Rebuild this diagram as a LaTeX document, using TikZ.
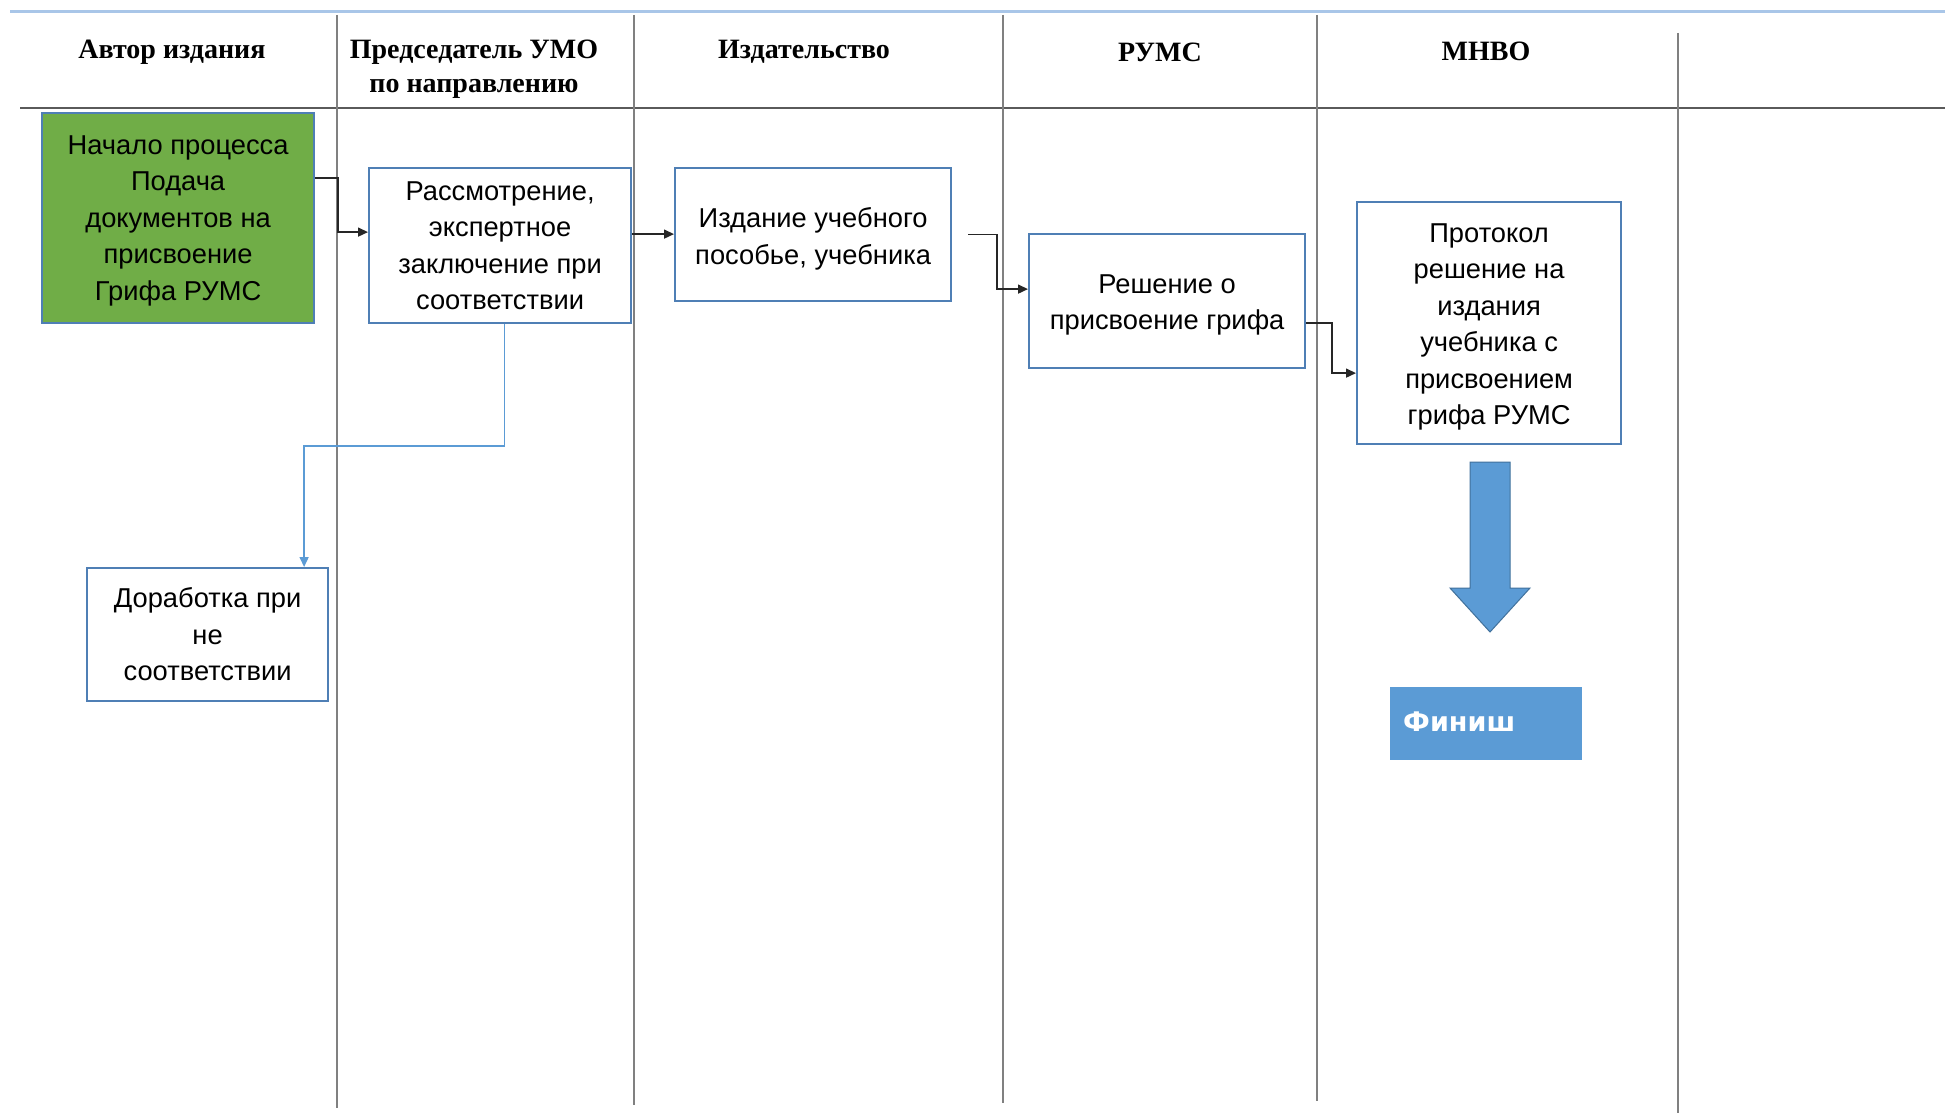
\documentclass[tikz,border=0pt]{standalone}
\usepackage{fontspec}
\setmainfont{Liberation Sans}
\newfontfamily\hdrfont{Liberation Serif}
\newfontfamily\finfont{DejaVu Sans}
\usetikzlibrary{arrows.meta}
\definecolor{boxblue}{HTML}{4F7FB5}
\definecolor{lightline}{HTML}{A9C6E8}
\definecolor{lanegray}{HTML}{808080}
\definecolor{hdrgray}{HTML}{5A5A5A}
\definecolor{startgreen}{HTML}{70AD47}
\definecolor{accent}{HTML}{5B9BD5}
\definecolor{accentdark}{HTML}{41719C}
\tikzset{
  procbox/.style={draw=boxblue, line width=2.2pt, fill=white, inner sep=0pt,
    anchor=north west},
  boxtext/.style={align=center, inner sep=0pt, font=\fontsize{27.3}{36.5}\selectfont},
  hdr/.style={font=\hdrfont\bfseries\fontsize{28}{34}\selectfont, align=center, inner sep=0pt},
  lane/.style={draw=lanegray, line width=1.8pt},
  conn/.style={draw=black!85, line width=1.5pt, -{Triangle[length=10pt,width=9pt]}},
  bconn/.style={draw=accent, line width=1.5pt, -{Triangle[length=10pt,width=9pt]}},
}
\begin{document}
\begin{tikzpicture}[x=1pt,y=-1pt]
\useasboundingbox[fill=white] (0,0) rectangle (1945,1113);
% frame lines
\draw[draw=lightline, line width=3pt] (10,12) -- (1945,12);
\draw[draw=hdrgray, line width=2.4pt] (20,108) -- (1945,108);
\draw[lane] (337,15) -- (337,1108);
\draw[lane] (634,15) -- (634,1105);
\draw[lane] (1003,15) -- (1003,1103);
\draw[lane] (1317,15) -- (1317,1101);
\draw[lane] (1678,33) -- (1678,1113);
% headers
\node[hdr] (h1) at (172,52) {Автор издания};
\node[hdr] (h2) at (474,69) {Председатель УМО\\по направлению};
\node[hdr] (h3) at (804,52) {Издательство};
\node[hdr] (h4) at (1160,52) {РУМС};
\node[hdr] (h5) at (1486,51) {МНВО};
% boxes
\node[procbox, fill=startgreen, minimum width=272pt, minimum height=210pt] (start) at (41,112) {};
\node[boxtext, yshift=-2.5pt] (startt) at (start.center)
  {Начало процесса\\Подача\\документов на\\присвоение\\Грифа РУМС};
\node[procbox, minimum width=262pt, minimum height=155pt] (rev) at (368,167) {};
\node[boxtext] (revt) at (rev.center)
  {Рассмотрение,\\экспертное\\заключение при\\соответствии};
\node[procbox, minimum width=276pt, minimum height=133pt] (pub) at (674,167) {};
\node[boxtext, yshift=-4pt] (pubt) at (pub.center)
  {Издание учебного\\пособье, учебника};
\node[procbox, minimum width=276pt, minimum height=134pt] (dec) at (1028,233) {};
\node[boxtext, yshift=-4pt] (dect) at (dec.center)
  {Решение о\\присвоение грифа};
\node[procbox, minimum width=264pt, minimum height=242pt] (prot) at (1356,201) {};
\node[boxtext, yshift=-4pt] (prott) at (prot.center)
  {Протокол\\решение на\\издания\\учебника с\\присвоением\\грифа РУМС};
\node[procbox, minimum width=241pt, minimum height=133pt] (rework) at (86,567) {};
\node[boxtext] (reworkt) at (rework.center)
  {Доработка при\\не\\соответствии};
% big arrow
\draw[fill=accent, draw=accentdark, line width=1pt]
  (1470,462) -- (1510,462) -- (1510,588) -- (1530,588) -- (1490,632) -- (1450,588) -- (1470,588) -- cycle;
% finish
\node[fill=accent, minimum width=192pt, minimum height=73pt, inner sep=0pt, anchor=north west] (fin) at (1390,687) {};
\node[anchor=west, inner sep=0pt, text=white, font=\finfont\bfseries\fontsize{27}{32}\selectfont] (fintext) at (1403,722) {Финиш};
% connectors
\draw[conn] ([yshift=40pt]start.east) -| ([xshift=-30pt,yshift=13.5pt]rev.west) -- ([yshift=13.5pt]rev.west);
\draw[conn] ([yshift=11.5pt]rev.east) -- ([yshift=11.5pt]rev.east -| pub.west);
\draw[conn] ([xshift=16pt]pub.east) -| ([xshift=-31pt,yshift=12pt]dec.west) -- ([yshift=12pt]dec.west);
\draw[conn] ([yshift=-22pt]dec.east) -| ([xshift=-24pt,yshift=-50pt]prot.west) -- ([yshift=-50pt]prot.west);
\draw[bconn] ([xshift=4.5pt]rev.south) |- ([xshift=96.5pt,yshift=121pt]rework.north) -- ([xshift=96.5pt]rework.north);
\end{tikzpicture}
\end{document}
